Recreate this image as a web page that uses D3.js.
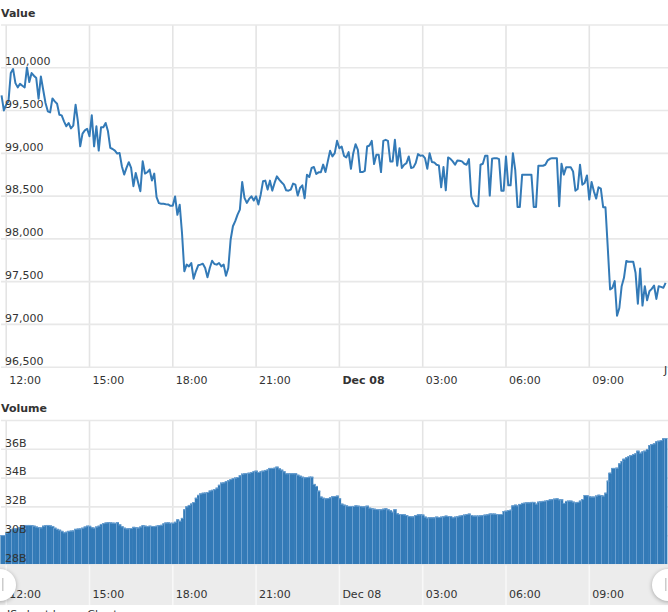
<!DOCTYPE html>
<html>
<head>
<meta charset="utf-8">
<script src="https://cdn.jsdelivr.net/npm/d3@7"></script>
<style>
  body { margin: 0; background: #fff; overflow: hidden; }
  svg { display: block; }
  text { fill: #333; font-family: "DejaVu Sans", sans-serif; font-size: 11px; }
  .title { font-weight: bold; }
  .grid line { stroke: #e8e8e8; stroke-width: 1.6; }
  .grid path, .labels path, .labels line { display: none; }
  .handle { fill: #fff; filter: drop-shadow(0 1px 2px rgba(0,0,0,.3)); }
</style>
</head>
<body>
<div class="canvas"></div>
<script>
// 5 minute samples, first one at 11:51 on Dec 7
const firstTime = new Date(2024, 11, 7, 11, 51);
const stepMinutes = 5;

const priceValues = [
  99671,99496,99562,99601,99932,99979,99815,99765,99807,99784,
  99765,99998,99827,99932,99901,99874,99632,99893,99737,99582,
  99485,99473,99636,99601,99574,99446,99438,99368,99310,99349,
  99286,99317,99562,99368,99076,99224,99263,99282,99193,99438,
  99076,99310,99026,99298,99298,99349,99251,99057,99045,99026,
  98991,98999,98843,98746,98824,98890,98824,98610,98765,98656,
  98551,98901,98757,98773,98804,98676,98757,98481,98412,98404,
  98404,98400,98397,98381,98381,98490,98276,98393,98060,97615,
  97693,97673,97712,97529,97615,97685,97693,97704,97654,97545,
  97654,97739,97700,97693,97712,97673,97693,97564,97654,97984,
  98142,98201,98278,98337,98659,98473,98414,98461,98492,98442,
  98492,98395,98511,98667,98675,98570,98675,98558,98648,98725,
  98687,98656,98628,98562,98558,98570,98640,98628,98500,98589,
  98620,98469,98745,98718,98823,98834,98752,98772,98772,98862,
  98775,98900,99024,98958,98996,99140,99054,99074,98965,98946,
  99008,98814,98996,99101,99035,98775,98775,98790,99074,99086,
  99140,98869,98977,98977,98775,99140,99152,99140,98900,98900,
  99152,98849,99054,98823,98861,98880,98958,98823,98830,98880,
  98985,98965,98970,98938,98814,98996,98892,98888,98861,98853,
  98597,98834,98562,98946,98930,98900,98861,98911,98907,98900,
  98872,98861,98926,98492,98415,98376,98376,98861,98872,98965,
  98965,98500,98930,98938,98938,98926,98558,98558,98958,98620,
  98620,98996,98802,98368,98368,98745,98745,98745,98745,98745,
  98368,98368,98849,98849,98849,98861,98911,98930,98938,98938,
  98938,98376,98872,98745,98830,98830,98830,98783,98558,98577,
  98861,98628,98647,98736,98453,98659,98550,98465,98597,98581,
  98364,98364,97891,97402,97422,97500,97096,97186,97441,97539,
  97735,97727,97727,97727,97598,97237,97649,97214,97441,97277,
  97382,97410,97449,97292,97441,97433,97422,97480
];

// billions
const volumeValues = [
  30.01,30.01,30.18,30.25,30.38,30.45,30.48,30.50,30.55,30.62,
  30.70,30.71,30.71,30.70,30.66,30.60,30.56,30.54,30.66,30.70,
  30.71,30.68,30.64,30.52,30.44,30.38,30.30,30.20,30.24,30.30,
  30.32,30.33,30.44,30.46,30.47,30.52,30.60,30.66,30.65,30.55,
  30.52,30.60,30.66,30.78,30.84,30.88,30.90,30.89,30.87,30.86,
  30.90,30.75,30.62,30.52,30.47,30.48,30.50,30.58,30.55,30.53,
  30.60,30.70,30.66,30.63,30.66,30.64,30.63,30.66,30.70,30.72,
  30.82,30.88,30.89,30.86,30.86,30.93,31.10,31.00,31.20,31.80,
  32.00,32.10,32.20,32.30,32.60,32.80,32.90,32.95,32.96,33.00,
  33.10,33.15,33.20,33.30,33.50,33.65,33.67,33.75,33.81,33.90,
  33.97,34.00,34.04,34.16,34.27,34.30,34.32,34.34,34.39,34.46,
  34.48,34.39,34.44,34.48,34.53,34.57,34.67,34.67,34.69,34.76,
  34.64,34.55,34.44,34.30,34.30,34.30,34.30,34.30,34.20,34.13,
  34.06,34.02,34.04,34.06,34.06,33.56,33.42,33.09,32.68,32.60,
  32.56,32.58,32.63,32.70,32.72,32.75,32.56,32.19,32.12,32.07,
  32.03,32.03,32.03,32.07,32.05,32.03,32.00,32.00,32.05,31.91,
  31.87,31.84,31.82,31.80,31.80,31.84,31.87,31.80,31.73,31.63,
  31.80,31.52,31.47,31.47,31.45,31.40,31.33,31.31,31.31,31.40,
  31.45,31.45,31.43,31.29,31.22,31.24,31.24,31.24,31.29,31.26,
  31.29,31.31,31.36,31.33,31.33,31.24,31.29,31.31,31.36,31.40,
  31.43,31.47,31.50,31.40,31.36,31.36,31.36,31.38,31.40,31.43,
  31.45,31.50,31.50,31.50,31.47,31.47,31.47,31.68,31.70,31.75,
  31.77,32.07,32.12,32.07,32.17,32.24,32.26,32.28,32.28,32.31,
  32.31,32.19,32.33,32.35,32.38,32.40,32.44,32.49,32.51,32.54,
  32.56,32.49,32.49,32.24,32.38,32.40,32.40,32.33,32.28,32.31,
  32.40,32.51,32.79,32.77,32.70,32.68,32.68,32.75,32.81,32.79,
  32.75,32.95,33.79,34.34,34.67,34.67,34.69,34.99,35.15,35.31,
  35.41,35.50,35.57,35.64,35.69,35.87,35.73,35.82,35.87,35.99,
  36.26,36.33,36.38,36.52,36.56,36.61,36.73,36.75
];

const valueTicks = [96500, 97000, 97500, 98000, 98500, 99000, 99500, 100000, 100500];
const volumeTicks = [28, 30, 32, 34, 36, 38];

const times = priceValues.map((d, i) => d3.timeMinute.offset(firstTime, i * stepMinutes));

const width = 668, height = 612;

const svg = d3.select(".canvas").append("svg")
  .attr("width", width)
  .attr("height", height);

const x = d3.scaleTime()
  .domain([new Date(2024, 11, 7, 12), new Date(2024, 11, 8, 12)])
  .range([5.7, 672.1]);

const yValue = d3.scaleLinear().domain([96500, 100500]).range([366.7, 24.5]);
const yVolume = d3.scaleLinear().domain([28, 38]).range([564, 420]);

const timeTicks = d3.timeHour.range(x.domain()[0], x.domain()[1], 3);
const timeLabel = d => d.getHours() === 0 ? d3.timeFormat("%b %d")(d) : d3.timeFormat("%H:%M")(d);

// navigator band sits under everything
svg.append("rect")
  .attr("x", 0).attr("y", 564)
  .attr("width", width).attr("height", 41)
  .attr("fill", "#ececec");

//grid lines
const vGrid = (top, bottom, colour) => {
  svg.append("g")
    .attr("class", "grid")
    .attr("transform", `translate(0,${bottom})`)
    .call(d3.axisBottom(x).tickValues(timeTicks).tickSize(top - bottom).tickFormat(""))
    .selectAll("line").style("stroke", colour);
};
vGrid(25, 367, "#e4e4e4");
vGrid(420, 564, "#e4e4e4");
vGrid(564, 605, "#f8f8f8");

svg.append("g")
  .attr("class", "grid")
  .attr("transform", "translate(1,0)")
  .call(d3.axisLeft(yValue).tickValues(valueTicks).tickSize(-width).tickFormat(""));

svg.append("g")
  .attr("class", "grid")
  .attr("transform", "translate(1,0)")
  .call(d3.axisLeft(yVolume).tickValues(volumeTicks).tickSize(-width).tickFormat(""));

//price line
const line = d3.line()
  .x((d, i) => x(times[i]))
  .y(d => yValue(d));

svg.append("path")
  .datum(priceValues)
  .attr("fill", "none")
  .attr("stroke", "#337ab7")
  .attr("stroke-width", 2)
  .attr("stroke-linejoin", "round")
  .attr("d", line);

//volume bars
const barWidth = x(d3.timeMinute.offset(firstTime, stepMinutes)) - x(firstTime);
const barLeft = (d, i) => x(times[i]) - barWidth / 2;
const barColour = "#337ab7", barEdge = "#6a9fd0";

svg.append("g")
  .selectAll("rect")
  .data(volumeValues)
  .join("rect")
  .attr("x", barLeft)
  .attr("y", d => yVolume(d))
  .attr("width", barWidth + 0.6) // overlap hides the antialiasing seams
  .attr("height", d => yVolume(28) - yVolume(d))
  .attr("fill", barColour);

// paler top edge of the columns
svg.append("g")
  .selectAll("rect")
  .data(volumeValues)
  .join("rect")
  .attr("x", barLeft)
  .attr("y", d => yVolume(d))
  .attr("width", barWidth + 0.6)
  .attr("height", 1)
  .attr("fill", barEdge);

// pale separator on every third column
svg.append("g")
  .selectAll("rect")
  .data(volumeValues)
  .join("rect")
  .attr("x", (d, i) => Math.floor(barLeft(d, i)))
  .attr("y", d => yVolume(d))
  .attr("width", 1)
  .attr("height", d => yVolume(28) - yVolume(d))
  .attr("fill", barEdge)
  .attr("display", (d, i) => i % 3 === 2 ? null : "none");

//labels go on top of the marks
const yLabels = (scale, ticks, fmt) => {
  const g = svg.append("g")
    .attr("class", "labels")
    .call(d3.axisRight(scale).tickValues(ticks.slice(0, -1)).tickSize(0).tickFormat(fmt));
  g.select(".domain").remove();
  g.selectAll("text")
    .attr("x", 5)
    .attr("y", -2.7)
    .attr("dy", 0);
};
yLabels(yValue, valueTicks, d3.format(","));
yLabels(yVolume, volumeTicks, d => d + "B");

const xLabels = (baseline, boldMidnight) => {
  const g = svg.append("g")
    .attr("class", "labels")
    .attr("transform", `translate(0,${baseline})`)
    .call(d3.axisBottom(x).tickValues(timeTicks).tickSize(0).tickFormat(timeLabel));
  g.select(".domain").remove();
  g.selectAll("text")
    .attr("x", 3)
    .attr("y", 0)
    .attr("dy", 0)
    .attr("text-anchor", "start")
    .style("font-weight", d => boldMidnight && d.getHours() === 0 ? "bold" : "normal");
};
xLabels(384, true);
xLabels(598, false);

svg.append("text").attr("x", 664).attr("y", 374).text("J");

svg.append("text").attr("class", "title").attr("x", 1).attr("y", 17).text("Value");
svg.append("text").attr("class", "title").attr("x", 1).attr("y", 412).text("Volume");

//navigator handles
[0, 668].forEach(cx => {
  svg.append("circle")
    .attr("class", "handle")
    .attr("cx", cx).attr("cy", 585).attr("r", 16);
  [-3, 2].forEach(dx => {
    svg.append("rect")
      .attr("x", cx + dx).attr("y", 578)
      .attr("width", 1.5).attr("height", 13)
      .attr("fill", "#ccc");
  });
});

svg.append("text").attr("x", 7).attr("y", 618).text("JS chart by amCharts");
</script>
</body>
</html>
